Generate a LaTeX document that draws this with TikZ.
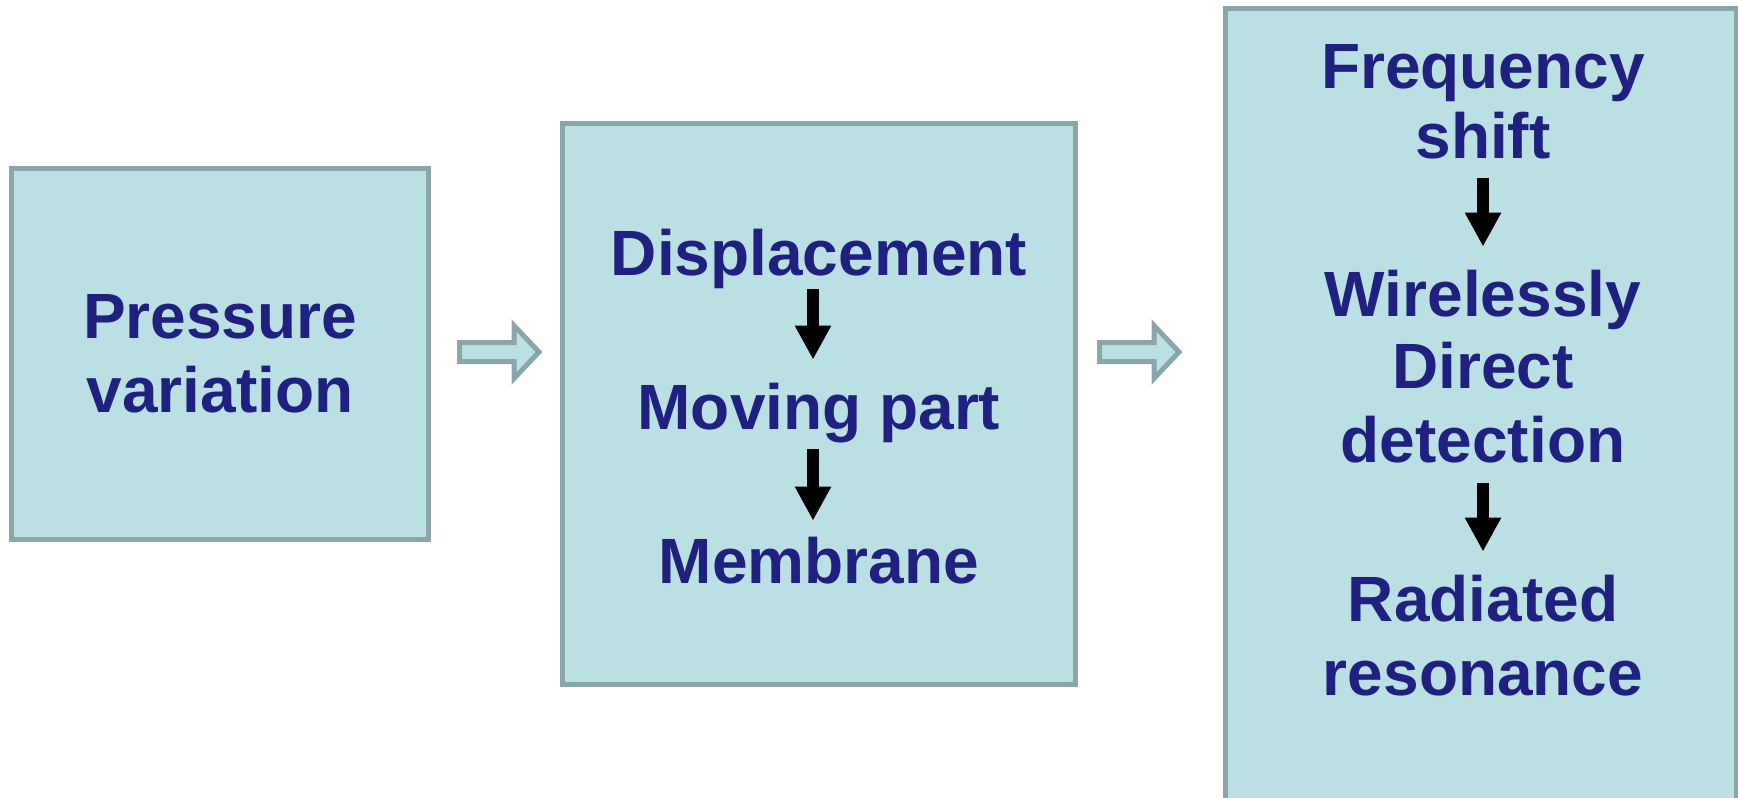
\documentclass[tikz,border=0pt]{standalone}
\usepackage{fontspec}
\setmainfont{Liberation Sans}
\usetikzlibrary{arrows.meta}
\definecolor{boxfill}{RGB}{187,224,227}
\definecolor{boxline}{RGB}{138,166,168}
\definecolor{navy}{RGB}{32,32,128}
\tikzset{
  box/.style={draw=boxline, fill=boxfill, line width=2.5pt, inner sep=0pt, outer sep=0pt},
  txt/.style={text=navy, font=\bfseries\fontsize{32}{36}\selectfont, inner sep=0pt, outer sep=0pt, anchor=base},
  blk/.style={draw=black, line width=6pt, -{Triangle[width=17pt,length=17pt]}},
  hollow/.style={draw=boxline, fill=boxfill, line width=2.5pt, line join=miter}
}
\begin{document}
\begin{tikzpicture}[x=0.5pt,y=-0.5pt]
\useasboundingbox (0,0) rectangle (1738,797);
\clip (0,0) rectangle (1738,797);
% boxes
\node[box, minimum width=208.5pt, minimum height=185.5pt] (b1) at (220,354) {};
\node[box, minimum width=256.5pt, minimum height=280.5pt] (b2) at (819,404) {};
\node[box, minimum width=255.25pt, minimum height=405.75pt] (b3) at (1480.75,414.25) {};
% hollow arrows
\coordinate (h1) at (457,352);
\coordinate (h2) at (1097,352);
\foreach \h in {h1,h2}{
  \draw[hollow] ([shift={(2.5,-9.5)}]\h) -- ++(54.5,0) -- ++(0,-17) -- ++(25,26.5) -- ++(-25,26.5) -- ++(0,-17) -- ++(-54.5,0) -- cycle;
}
% box 1 text
\node[txt] (pres) at (220,338) {Pressure};
\node[txt] (vari) at (220,412) {variation};
% box 2 text
\node[txt] (disp) at (819,275) {Displacement};
\node[txt] (move) at (819,429) {Moving part};
\node[txt] (memb) at (819,583) {Membrane};
\draw[blk, shorten <=0.5pt, shorten >=11.5pt] ([xshift=-3pt]disp.south) -- ([xshift=-3pt]disp.south |- move.north);
\draw[blk, shorten <=3pt, shorten >=8pt] ([xshift=-3pt]move.south) -- ([xshift=-3pt]move.south |- memb.north);
% box 3 text
\node[txt] (freq) at (1483,89) {Frequency};
\node[txt] (shif) at (1483,158) {shift};
\node[txt] (wire) at (1483,316) {Wirelessly};
\node[txt] (dire) at (1483,388) {Direct};
\node[txt] (dete) at (1483,462) {detection};
\node[txt] (radi) at (1483,621) {Radiated};
\node[txt] (reso) at (1483,695) {resonance};
\draw[blk, shorten <=9.5pt, shorten >=11.5pt] (shif.south) -- (shif.south |- wire.north);
\draw[blk, shorten <=10pt, shorten >=11.5pt] (dete.south) -- (dete.south |- radi.north);
\end{tikzpicture}
\end{document}
